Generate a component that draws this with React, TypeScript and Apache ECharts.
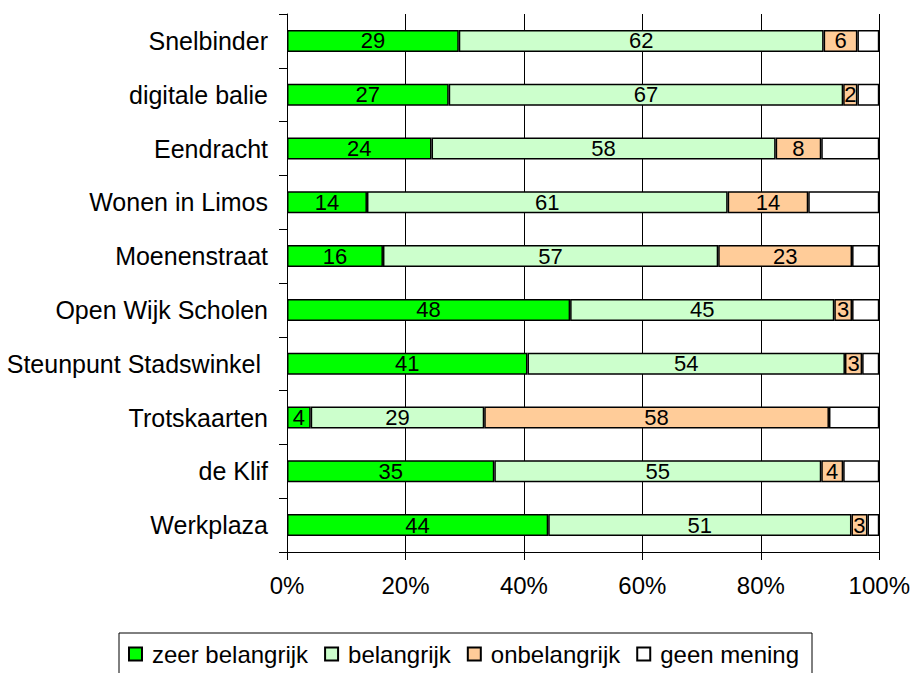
import React, { useEffect, useRef } from "react";
import * as echarts from "echarts";

const categories = [
  "Snelbinder",
  "digitale balie",
  "Eendracht",
  "Wonen in Limos",
  "Moenenstraat",
  "Open Wijk Scholen",
  "Steunpunt Stadswinkel ",
  "Trotskaarten",
  "de Klif",
  "Werkplaza",
];

const zeerBelangrijk = [29.0, 27.3, 24.4, 13.5, 16.2, 47.8, 40.6, 4.0, 35.0, 44.1];
const belangrijk = [61.6, 66.6, 58.1, 60.9, 56.6, 44.6, 53.6, 29.3, 55.2, 51.2];
const onbelangrijk = [5.7, 2.4, 7.7, 13.6, 22.6, 3.0, 2.9, 58.2, 3.7, 2.7];
const geenMening = [3.7, 3.7, 9.8, 12.0, 4.6, 4.6, 2.9, 8.5, 6.1, 2.0];

const seriesNames = ["zeer belangrijk", "belangrijk", "onbelangrijk", "geen mening"];
const seriesColors = ["#00FF00", "#CCFFCC", "#FFCC99", "#FFFFFF"];
const xTicks = [0, 20, 40, 60, 80, 100];

const FONT = "'Liberation Sans', Arial, sans-serif";

export default function App() {
  const ref = useRef<HTMLDivElement>(null);

  useEffect(() => {
    if (!ref.current) return;
    const chart = echarts.init(ref.current, null, { renderer: "svg" });
    const allData = [zeerBelangrijk, belangrijk, onbelangrijk, geenMening];
    const series = allData.map((d, i) => ({
      name: seriesNames[i],
      type: "bar",
      stack: "total",
      barWidth: 22,
      data: d,
      itemStyle: {
        color: seriesColors[i],
        borderColor: "#000",
        borderWidth: 1.5,
      },
      label: {
        show: i < 3,
        position: "inside",
        color: "#000",
        fontSize: 22,
        fontFamily: FONT,
        formatter: (p: any) => String(Math.round(p.value)),
      },
      emphasis: { disabled: true },
    }));

    chart.setOption({
      animation: false,
      backgroundColor: "#fff",
      textStyle: { fontFamily: FONT, color: "#000" },
      grid: { left: 287, right: 30, top: 14, bottom: 121, containLabel: false },
      legend: {
        data: seriesNames,
        left: 119,
        top: 633,
        orient: "horizontal",
        icon: "rect",
        itemWidth: 13,
        itemHeight: 13,
        itemGap: 16,
        padding: [9, 13, 10, 9],
        borderColor: "#000",
        borderWidth: 1,
        borderRadius: 0,
        textStyle: { fontSize: 24, color: "#000", fontFamily: FONT, padding: [0, 0, 0, 5] },
        selectedMode: false,
      },
      xAxis: {
        type: "value",
        min: xTicks[0],
        max: xTicks[xTicks.length - 1],
        interval: 20,
        axisLine: { show: true, lineStyle: { color: "#000", width: 1 } },
        axisTick: { show: true, length: 8, lineStyle: { color: "#000" } },
        splitLine: { show: true, lineStyle: { color: "#000", width: 1 } },
        axisLabel: {
          formatter: "{value}%",
          fontSize: 24,
          color: "#000",
          fontFamily: FONT,
          margin: 21,
        },
      },
      yAxis: {
        type: "category",
        inverse: true,
        data: categories,
        axisLine: { show: true, lineStyle: { color: "#000", width: 1 } },
        axisTick: { show: true, length: 8, lineStyle: { color: "#000" } },
        axisLabel: {
          fontSize: 25,
          color: "#000",
          fontFamily: FONT,
          margin: 19,
        },
      },
      series,
    });

    return () => {
      chart.dispose();
    };
  }, []);

  return (
    <div
      ref={ref}
      style={{ position: "absolute", left: 0, top: 0, width: 913, height: 673 }}
    />
  );
}
